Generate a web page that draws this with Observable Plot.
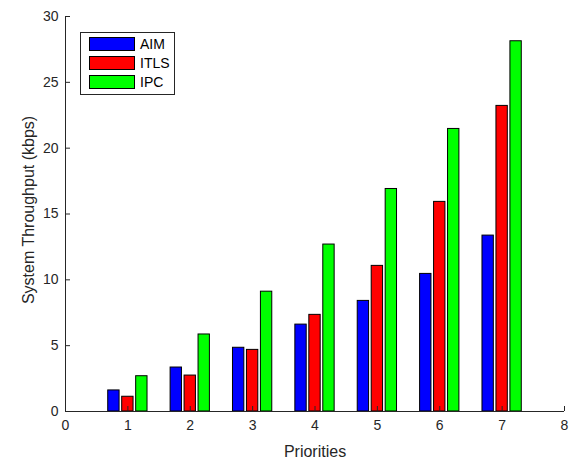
<!DOCTYPE html>
<html><head><meta charset="utf-8">
<script src="https://cdn.jsdelivr.net/npm/d3@7"></script>
<script src="https://cdn.jsdelivr.net/npm/@observablehq/plot@0.6"></script>
<style>
body{margin:0;background:#fff;font-family:"Liberation Sans",Arial,sans-serif;}
#wrap{position:relative;width:583px;height:459px;}
#legend{position:absolute;left:80px;top:32px;width:93px;height:61px;border:1px solid #262626;background:#fff;}
.item{position:absolute;left:8px;height:14px;display:flex;align-items:center;font-size:14px;color:#000;}
.sw{width:46px;height:14px;border:1px solid #000;box-sizing:border-box;margin-right:5px;}
</style></head>
<body><div id="wrap"><div id="legend"></div></div>
<script>
const priorities = [1, 2, 3, 4, 5, 6, 7];
const series = ["AIM", "ITLS", "IPC"];
const colors = ["#0000ff", "#ff0000", "#00ff00"];
const aim  = [1.6, 3.34, 4.84, 6.6, 8.4, 10.45, 13.36];
const itls = [1.12, 2.73, 4.68, 7.34, 11.06, 15.92, 23.21];
const ipc  = [2.68, 5.85, 9.1, 12.68, 16.9, 21.46, 28.12];
const xTicks = [0, 1, 2, 3, 4, 5, 6, 7, 8];
const yTicks = [0, 5, 10, 15, 20, 25, 30];
const xLabel = "Priorities";
const yLabel = "System Throughput (kbps)";

const values = [aim, itls, ipc];
const groupStep = 0.224, barW = 0.182;
const data = [];
series.forEach((s, si) => priorities.forEach((p, i) => {
  const c = p + (si - 1) * groupStep;
  data.push({series: s, x1: c - barW / 2, x2: c + barW / 2, y: values[si][i]});
}));

const axisColor = "#262626";
const chart = Plot.plot({
  width: 583, height: 459,
  marginLeft: 65, marginRight: 19, marginTop: 16, marginBottom: 48,
  style: {fontFamily: "'Liberation Sans', Arial, sans-serif", fontSize: "14px", color: axisColor, background: "#fff"},
  x: {domain: [0, 8], label: null},
  y: {domain: [0, 30], label: null},
  color: {domain: series, range: colors},
  marks: [
    Plot.rectY(data, {x1: "x1", x2: "x2", y: "y", fill: "series", stroke: "#000", strokeWidth: 1}),
    Plot.ruleX([0], {stroke: axisColor}),
    Plot.ruleY([0], {stroke: axisColor}),
    Plot.axisX(xTicks, {tickSize: -5, tickPadding: 14, stroke: axisColor, fill: axisColor, fontSize: 14, label: null}),
    Plot.axisY(yTicks, {tickSize: -5, tickPadding: 12, stroke: axisColor, fill: axisColor, fontSize: 14, label: null}),
    Plot.text([xLabel], {text: d => d, frameAnchor: "bottom", dy: 40, lineAnchor: "middle", fontSize: 16, fill: axisColor}),
    Plot.text([yLabel], {text: d => d, frameAnchor: "left", dx: -37, dy: -4, rotate: -90, lineAnchor: "middle", textAnchor: "middle", fontSize: 16, fill: axisColor})
  ]
});
document.getElementById("wrap").prepend(chart);

const legend = document.getElementById("legend");
const tops = [4, 23, 42];
series.forEach((s, i) => {
  const d = document.createElement("div");
  d.className = "item";
  d.style.top = tops[i] + "px";
  d.innerHTML = `<div class="sw" style="background:${colors[i]}"></div><span>${s}</span>`;
  legend.appendChild(d);
});
</script></body></html>
